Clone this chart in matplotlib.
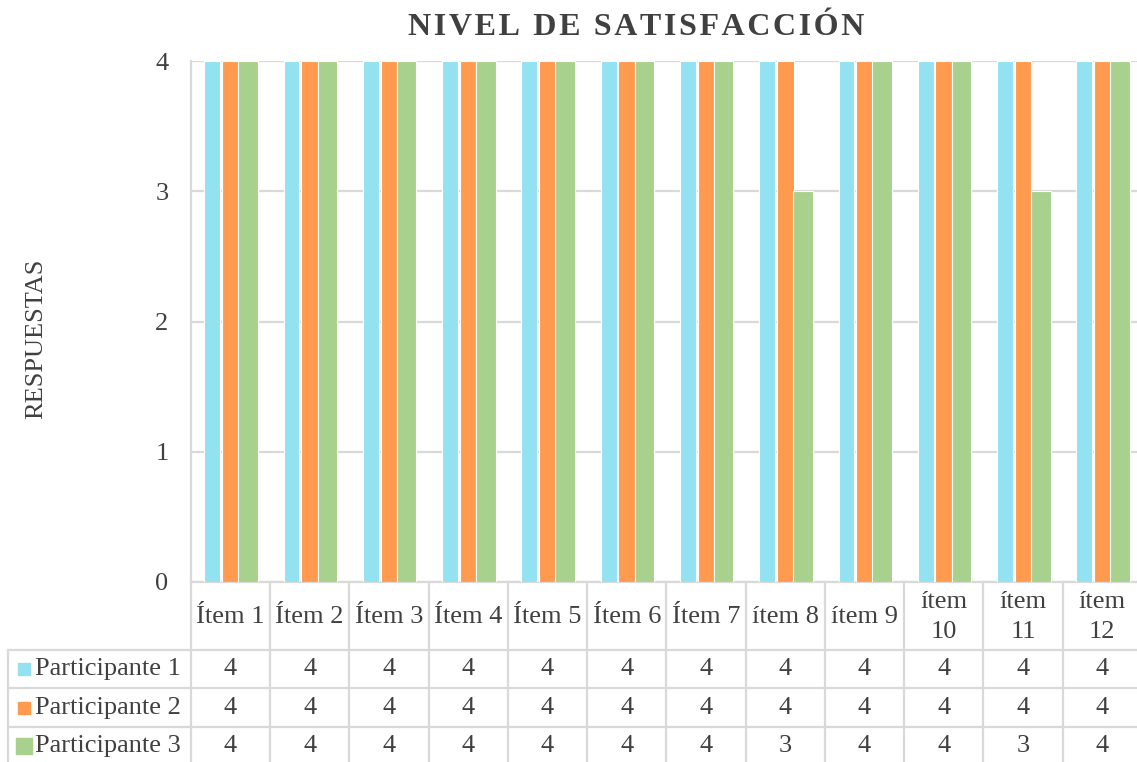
import matplotlib
matplotlib.use("Agg")
import matplotlib.pyplot as plt
import numpy as np

# ---- data ----
items = ["Ítem 1", "Ítem 2", "Ítem 3", "Ítem 4", "Ítem 5", "Ítem 6", "Ítem 7",
         "ítem 8", "ítem 9", "ítem\n10", "ítem\n11", "ítem\n12"]
series_names = ["Participante 1", "Participante 2", "Participante 3"]
p1 = [4, 4, 4, 4, 4, 4, 4, 4, 4, 4, 4, 4]
p2 = [4, 4, 4, 4, 4, 4, 4, 4, 4, 4, 4, 4]
p3 = [4, 4, 4, 4, 4, 4, 4, 3, 4, 4, 3, 4]
y_ticks = [0, 1, 2, 3, 4]
title = "NIVEL DE SATISFACCIÓN"
ylabel = "RESPUESTAS"

colors = ["#93E2F1", "#FF9A4F", "#A9D18E"]
text_color = "#404040"
grid_color = "#D9D9D9"
serif = ["Liberation Serif", "DejaVu Serif"]
FS = 19

W, H = 1137, 762
fig = plt.figure(figsize=(W / 100, H / 100), dpi=100)

left_px, right_px, top_px, bot_px = 190.7, 1142.0, 61.0, 582.0
ax = fig.add_axes([left_px / W, 1 - bot_px / H, (right_px - left_px) / W, (bot_px - top_px) / H])
x = np.arange(len(items))
offsets = [-0.228, 0.0, 0.223]
widths = [0.20, 0.21, 0.246]
for vals, off, w, c in zip([p1, p2, p3], offsets, widths, colors):
    ax.bar(x + off, vals, width=w, color=c, edgecolor="white", linewidth=0.8, zorder=3)

ax.set_xlim(-0.5, len(items) - 0.5)
ax.set_ylim(0, 4)
ax.set_yticks(y_ticks)
ax.set_yticklabels([str(t) for t in y_ticks], family=serif, fontsize=FS, color=text_color)
ax.tick_params(axis="y", length=0, pad=16)
ax.set_xticks([])
ax.grid(axis="y", color=grid_color, linewidth=1.6, zorder=0)
for s in ["top", "right"]:
    ax.spines[s].set_visible(False)
ax.spines["left"].set_color(grid_color)
ax.spines["left"].set_linewidth(1.6)
ax.spines["bottom"].set_color(grid_color)
ax.spines["bottom"].set_linewidth(1.6)

# ---- data table ----
tax = fig.add_axes([left_px / W, 0, (right_px - left_px) / W, (H - bot_px) / H])
tax.set_xlim(-0.5, len(items) - 0.5)
tax.set_ylim(H, bot_px)
tax.axis("off")
cw = (right_px - left_px) / len(items)
x_left = -0.5 - (left_px - 8) / cw
row_lines = [650, 688, 727]
row_centers = [669, 708, 746]
for k in range(len(items) + 1):
    tax.plot([k - 0.5, k - 0.5], [bot_px, H], color=grid_color, lw=1.6, clip_on=False)
tax.plot([x_left, x_left], [row_lines[0], H], color=grid_color, lw=1.6, clip_on=False)
for yl in row_lines:
    tax.plot([x_left, len(items) - 0.5], [yl, yl], color=grid_color, lw=1.6, clip_on=False)

for i, lab in enumerate(items):
    tax.text(i, 617, lab, ha="center", va="center", family=serif, fontsize=FS,
             color=text_color, linespacing=1.42, clip_on=False)

sq_x = -0.5 - (left_px - 24) / cw
txt_x = -0.5 - (left_px - 35) / cw
marker_sizes = [8, 8, 11]
for name, vals, c, yc, ms in zip(series_names, [p1, p2, p3], colors, row_centers, marker_sizes):
    tax.plot([sq_x], [yc], marker="s", ms=ms, color=c, mec=c, clip_on=False, ls="none")
    tax.text(txt_x, yc, name, ha="left", va="center", family=serif, fontsize=FS,
             color=text_color, clip_on=False)
    for i, v in enumerate(vals):
        tax.text(i, yc, str(v), ha="center", va="center", family=serif, fontsize=FS,
                 color=text_color, clip_on=False)

# ---- titles ----
spaced = "\u200a".join(title)
fig.text(636 / W, 1 - 35 / H, spaced,
         ha="center", va="baseline", family=serif, fontsize=23, fontweight="bold",
         color=text_color)
fig.text(36 / W, 1 - 339 / H, ylabel, ha="center", va="center", rotation=90,
         family=serif, fontsize=FS, color=text_color)

fig.savefig("out.png", dpi=100)
